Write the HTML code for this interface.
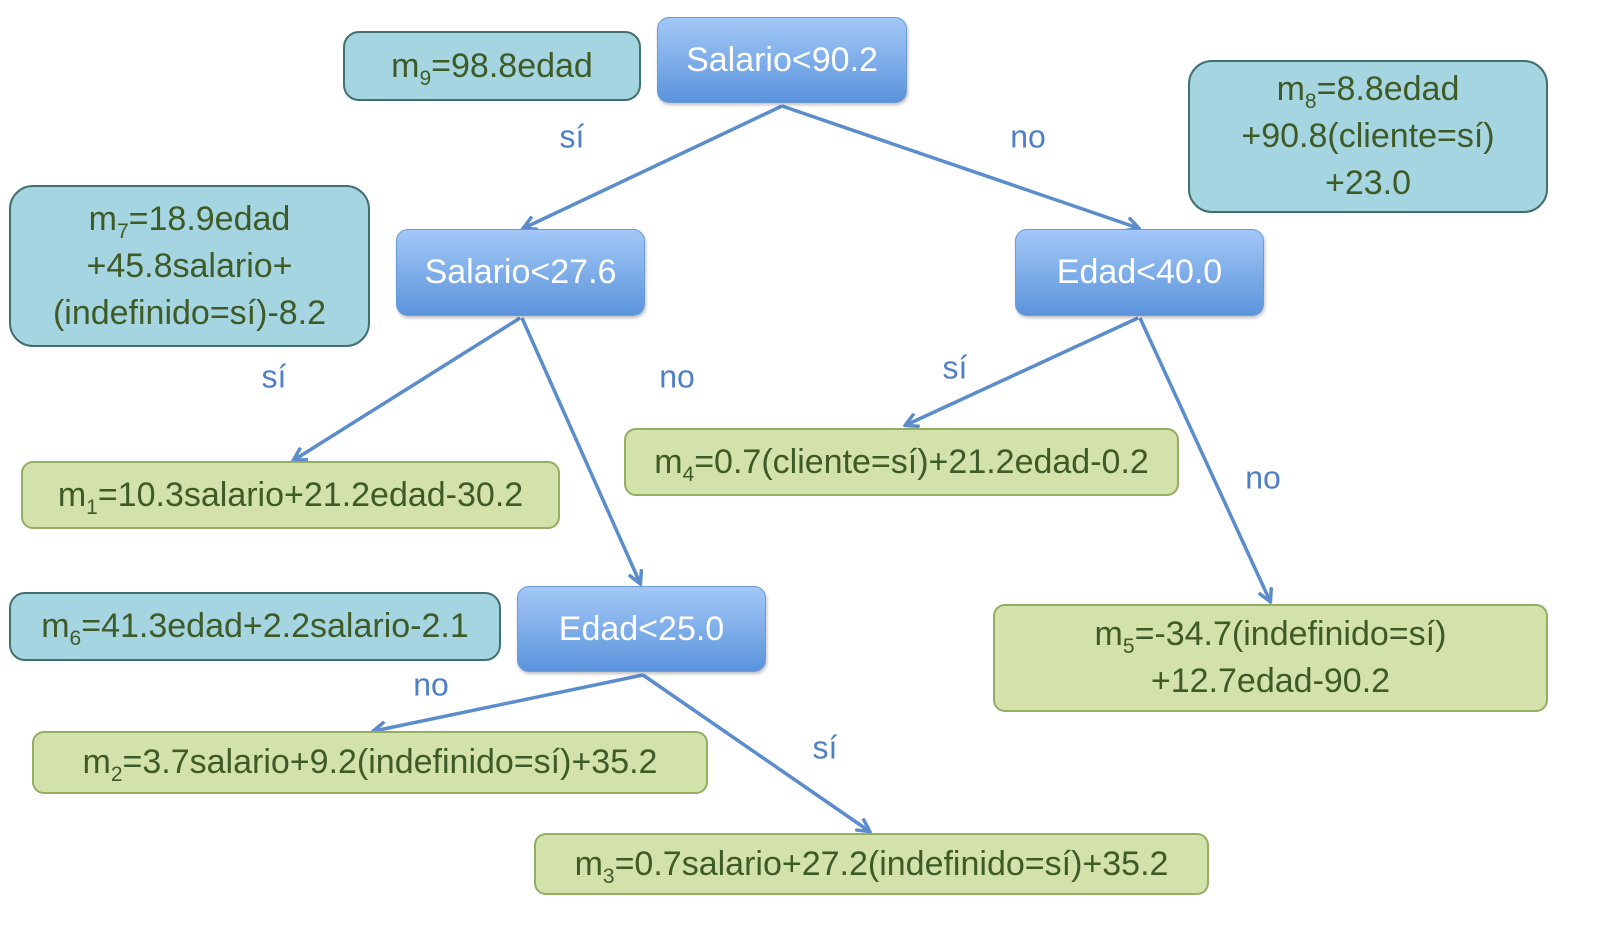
<!DOCTYPE html>
<html><head><meta charset="utf-8"><style>
body{margin:0;width:1609px;height:951px;background:#fff;position:relative;overflow:hidden;font-family:"Liberation Sans",sans-serif}
.b{position:absolute;box-sizing:border-box;display:flex;align-items:center;justify-content:center;text-align:center;border-radius:16px;font-size:34px;line-height:47px}
.b>div{display:block}
.t{background:#a5d5e1;border:2px solid #41706f;color:#3e5a26}
.g{background:#d3e2aa;border:2px solid #93ad63;color:#3e5a26;border-radius:12px}
.n{background:linear-gradient(#a3c8f7,#5b94dc);border:1px solid #6a9ad8;color:#fff;border-radius:12px;box-shadow:1px 2px 3px rgba(0,0,0,.25)}
sub{font-size:21px;vertical-align:-8px;line-height:0}
.l{position:absolute;color:#4f7fc6;font-size:32px;transform:translate(-50%,-50%)}
svg{position:absolute;left:0;top:0}
</style></head><body>
<svg width="1609" height="951"><defs><marker id="a" markerWidth="16" markerHeight="16" refX="13" refY="8" orient="auto" markerUnits="userSpaceOnUse"><path d="M1,1 L14,8 L1,15" fill="none" stroke="#5b8ccc" stroke-width="3.5"/></marker></defs>
<g stroke="#5b8ccc" stroke-width="3.5" marker-end="url(#a)">
<line x1="782" y1="106" x2="524" y2="228"/>
<line x1="782" y1="106" x2="1138" y2="228"/>
<line x1="520" y1="318" x2="294" y2="460"/>
<line x1="522" y1="318" x2="640" y2="583"/>
<line x1="1138" y1="318" x2="906" y2="425"/>
<line x1="1140" y1="318" x2="1270" y2="601"/>
<line x1="643" y1="675" x2="374" y2="731"/>
<line x1="643" y1="675" x2="869" y2="831"/>
</g></svg>
<div class="b t" style="left:343px;top:31px;width:298px;height:70px"><div>m<sub>9</sub>=98.8edad</div></div>
<div class="b n" style="left:657px;top:17px;width:250px;height:86px"><div>Salario&lt;90.2</div></div>
<div class="b t" style="left:1188px;top:60px;width:360px;height:153px;border-radius:24px"><div>m<sub>8</sub>=8.8edad<br>+90.8(cliente=sí)<br>+23.0</div></div>
<div class="b t" style="left:9px;top:185px;width:361px;height:162px;border-radius:24px"><div>m<sub>7</sub>=18.9edad<br>+45.8salario+<br>(indefinido=sí)-8.2</div></div>
<div class="b n" style="left:396px;top:229px;width:249px;height:87px"><div>Salario&lt;27.6</div></div>
<div class="b n" style="left:1015px;top:229px;width:249px;height:87px"><div>Edad&lt;40.0</div></div>
<div class="b g" style="left:21px;top:461px;width:539px;height:68px"><div>m<sub>1</sub>=10.3salario+21.2edad-30.2</div></div>
<div class="b g" style="left:624px;top:428px;width:555px;height:68px"><div>m<sub>4</sub>=0.7(cliente=sí)+21.2edad-0.2</div></div>
<div class="b n" style="left:517px;top:586px;width:249px;height:86px"><div>Edad&lt;25.0</div></div>
<div class="b t" style="left:9px;top:592px;width:492px;height:69px"><div>m<sub>6</sub>=41.3edad+2.2salario-2.1</div></div>
<div class="b g" style="left:993px;top:604px;width:555px;height:108px"><div>m<sub>5</sub>=-34.7(indefinido=sí)<br>+12.7edad-90.2</div></div>
<div class="b g" style="left:32px;top:731px;width:676px;height:63px"><div>m<sub>2</sub>=3.7salario+9.2(indefinido=sí)+35.2</div></div>
<div class="b g" style="left:534px;top:833px;width:675px;height:62px"><div>m<sub>3</sub>=0.7salario+27.2(indefinido=sí)+35.2</div></div>
<div class="l" style="left:572px;top:137px">sí</div>
<div class="l" style="left:1028px;top:137px">no</div>
<div class="l" style="left:274px;top:377px">sí</div>
<div class="l" style="left:677px;top:377px">no</div>
<div class="l" style="left:955px;top:368px">sí</div>
<div class="l" style="left:1263px;top:478px">no</div>
<div class="l" style="left:431px;top:685px">no</div>
<div class="l" style="left:825px;top:748px">sí</div>
</body></html>
